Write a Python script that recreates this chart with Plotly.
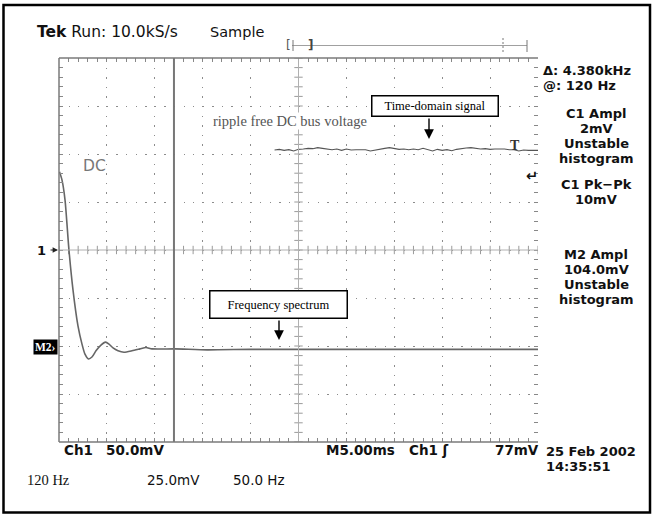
import plotly.graph_objects as go

hz_per_div = 50.0          # 50.0 Hz/div (spectrum)
ms_per_div = 5.0           # M5.00ms (time base)
cursor_hz = 120.0          # frequency cursor "@: 120 Hz"

spectrum_freq_hz = [0.5, 3.1, 6.3, 10.4, 14.6, 19.8, 24.0, 27.1, 30.8, 34.4,
                    38.6, 43.8, 48.5, 52.2, 56.4, 61.6, 67.8, 76.2, 84.5, 90.8,
                    97.1, 121.1, 154.5, 199.4, 251.6, 355.9, 500.0]
spectrum_level_div = [1.63, 1.46, 1.04, 0.0, -0.83, -1.58, -1.96, -2.17, -2.27, -2.23,
                      -2.10, -1.98, -1.92, -1.96, -2.04, -2.10, -2.13, -2.10, -2.06, -2.03,
                      -2.06, -2.06, -2.08, -2.07, -2.07, -2.07, -2.07]

time_ms = [22.5, 23.0, 23.5, 24.0, 24.5, 25.0, 25.5, 26.0, 26.5, 27.0,
           27.5, 28.0, 28.5, 29.0, 29.5, 30.0, 30.5, 31.0, 31.5, 32.0,
           32.5, 33.0, 33.5, 34.0, 34.5, 35.0, 35.5, 36.0, 36.5, 37.0,
           37.5, 38.0, 38.5, 39.0, 39.5, 40.0, 40.5, 41.0, 41.5, 42.0,
           42.5, 43.0, 43.5, 44.0, 44.5, 45.0, 45.5, 46.0, 46.5, 47.0,
           47.5, 48.0, 48.5, 49.0, 49.5, 50.0]
ripple_div = [2.083, 2.097, 2.076, 2.090, 2.063, 2.097, 2.104, 2.118, 2.111, 2.132,
              2.118, 2.104, 2.090, 2.104, 2.076, 2.104, 2.083, 2.090, 2.090, 2.090,
              2.063, 2.076, 2.104, 2.118, 2.132, 2.111, 2.097, 2.104, 2.090, 2.104,
              2.090, 2.118, 2.090, 2.063, 2.097, 2.076, 2.090, 2.069, 2.097, 2.118,
              2.125, 2.132, 2.111, 2.104, 2.111, 2.097, 2.104, 2.111, 2.104, 2.090,
              2.090, 2.063, 2.083, 2.076, 2.083, 2.076]

header_left = "<b>Tek</b> Run: 10.0kS/s"
header_mode = "Sample"
c1_lines = ["C1 Ampl", "2mV", "Unstable", "histogram"]
c1pk_lines = ["C1 Pk\u2212Pk", "10mV"]
m2_lines = ["M2 Ampl", "104.0mV", "Unstable", "histogram"]
cursor_lines = ["\u0394: 4.380kHz", "@: 120 Hz"]
bottom_scope = ["Ch1", "50.0mV", "M5.00ms", "Ch1 \u0283", "77mV"]
date_lines = ["25 Feb 2002", "14:35:51"]
bottom_spec = ["120 Hz", "25.0mV", "50.0 Hz"]

# ---------------- layout geometry ----------------
W, H = 653, 514
L, R, T, B = 59, 538, 58, 442
PW, PH = R - L, B - T


def px(x):
    return (x - L) / PW


def py(y):
    return (B - y) / PH


SANS = "DejaVu Sans"
SERIF = "Liberation Serif"

fig = go.Figure()

# centre cross-hair tick marks
minor = [i * 0.2 for i in range(51)]
minor_y = [-4 + i * 0.2 for i in range(41)]
fig.add_trace(go.Scatter(x=minor, y=[0] * len(minor), mode="markers",
                         marker=dict(symbol="line-ns", size=6, line=dict(color="#9a9a9a", width=1)),
                         hoverinfo="skip", showlegend=False))
fig.add_trace(go.Scatter(x=[5] * len(minor_y), y=minor_y, mode="markers",
                         marker=dict(symbol="line-ew", size=6, line=dict(color="#9a9a9a", width=1)),
                         hoverinfo="skip", showlegend=False))

# spectrum
fig.add_trace(go.Scatter(x=[f / hz_per_div for f in spectrum_freq_hz], y=spectrum_level_div,
                         mode="lines", line=dict(color="#666666", width=1.6, shape="spline", smoothing=0.6),
                         showlegend=False))
# time-domain
fig.add_trace(go.Scatter(x=[t / ms_per_div for t in time_ms], y=ripple_div,
                         mode="lines", line=dict(color="#555555", width=1.1),
                         showlegend=False))

shapes = []
shapes.append(dict(type="line", xref="x", yref="paper", x0=5, x1=5, y0=0, y1=1,
                   line=dict(color="#b0b0b0", width=1)))
shapes.append(dict(type="line", xref="paper", yref="y", x0=0, x1=1, y0=0, y1=0,
                   line=dict(color="#b0b0b0", width=1)))
shapes.append(dict(type="line", xref="x", yref="paper", x0=cursor_hz / hz_per_div, x1=cursor_hz / hz_per_div,
                   y0=0, y1=1, line=dict(color="#777777", width=2)))
for (x0, y0, x1, y1) in [(0, 0, 0, 1), (0, 1, 1, 1), (0, 0, 1, 0)]:
    shapes.append(dict(type="line", xref="paper", yref="paper", x0=x0, y0=y0, x1=x1, y1=y1,
                       line=dict(color="#7a7a7a", width=1.5)))
shapes.append(dict(type="line", xref="paper", yref="paper", x0=px(292), x1=px(527), y0=py(45.5), y1=py(45.5),
                   line=dict(color="#a0a0a0", width=1)))
shapes.append(dict(type="line", xref="paper", yref="paper", x0=px(293), x1=px(293), y0=py(40), y1=py(51),
                   line=dict(color="#777", width=1)))
shapes.append(dict(type="line", xref="paper", yref="paper", x0=px(503), x1=px(503), y0=py(38), y1=py(53),
                   line=dict(color="#777", width=1, dash="2px,2px")))
shapes.append(dict(type="line", xref="paper", yref="paper", x0=px(527), x1=px(527), y0=py(40), y1=py(52),
                   line=dict(color="#777", width=1)))
shapes.append(dict(type="rect", xref="paper", yref="paper", x0=px(3.5), x1=px(650), y0=py(512.5), y1=py(5),
                   line=dict(color="#000", width=2.5)))

ann = []


def txt(s, x, y, size=13, family=SANS, color="#111", xanchor="left", **kw):
    ann.append(dict(text=s, xref="paper", yref="paper", x=px(x), y=py(y), xanchor=xanchor, yanchor="middle",
                    showarrow=False, font=dict(family=family, size=size, color=color), **kw))


def bold(s):
    return "<b>" + s + "</b>"


txt(header_left, 35, 32, size=15.5)
txt(header_mode, 208, 32, size=14.5)
txt("[", 284, 45, size=12, color="#555")
txt(bold("]"), 306, 45, size=12, color="#444")

# right-hand readout panel
txt(bold(cursor_lines[0]), 541, 70, size=13)
txt(bold(cursor_lines[1]), 541, 85.2, size=13)
for s, y in zip(c1_lines, [113.5, 128.6, 143.7, 158.8]):
    txt(bold(s), 596, y, size=13, xanchor="center")
for s, y in zip(c1pk_lines, [184.6, 199.7]):
    txt(bold(s), 596, y, size=13, xanchor="center")
for s, y in zip(m2_lines, [254.5, 269.6, 284.7, 299.8]):
    txt(bold(s), 596, y, size=13, xanchor="center")
txt(bold("\u21b5"), 532, 176, size=14.5, xanchor="center")

# bottom scope readouts
for s, x in zip(bottom_scope, [62, 104, 324, 407, 493]):
    txt(bold(s), x, 450, size=13.5)
txt(bold(date_lines[0]), 544, 451.5, size=13)
txt(bold(date_lines[1]), 544, 466.6, size=13)
txt(bottom_spec[0], 25, 480, size=14.5, family=SERIF)
txt(bottom_spec[1], 145, 480, size=13.5)
txt(bottom_spec[2], 231, 480, size=13.5)

# in-graticule labels
txt("DC", 81, 166, size=15.5, color="#777")
txt("ripple free DC bus voltage", 212, 121, size=14.5, family=SERIF, color="#555", bgcolor="#fff", borderpad=0)
txt(bold("T"), 515, 145, size=14, family=SERIF, color="#333", xanchor="center")
txt(bold("1"), 48, 250, size=13, xanchor="right")
txt(bold("M2\u203a"), 58, 347, size=11.5, family=SERIF, color="#fff", xanchor="right", bgcolor="#000", borderpad=1)

txt("Time-domain signal", 435, 106, size=12.5, family=SERIF, color="#000", xanchor="center",
    bordercolor="#000", borderwidth=1.5, borderpad=0, bgcolor="#fff", width=125, height=19)
txt("Frequency spectrum", 278.5, 304.5, size=12.5, family=SERIF, color="#000", xanchor="center",
    bordercolor="#000", borderwidth=1.5, borderpad=0, bgcolor="#fff", width=136, height=26)

ann.append(dict(text="", xref="paper", yref="paper", x=px(429), y=py(139), ax=0, ay=-22, showarrow=True,
                arrowhead=2, arrowsize=1.4, arrowwidth=1.4, arrowcolor="#000", standoff=0))
ann.append(dict(text="", xref="paper", yref="paper", x=px(279), y=py(340), ax=0, ay=-21, showarrow=True,
                arrowhead=2, arrowsize=1.4, arrowwidth=1.4, arrowcolor="#000", standoff=0))
ann.append(dict(text="", xref="paper", yref="paper", x=px(58), y=py(250), ax=-9, ay=0, showarrow=True,
                arrowhead=2, arrowsize=0.9, arrowwidth=1.2, arrowcolor="#222", standoff=0))

fig.update_layout(
    width=W, height=H, autosize=False,
    margin=dict(l=L, r=W - R, t=T, b=H - B, pad=0),
    paper_bgcolor="#fff", plot_bgcolor="#fff",
    shapes=shapes, annotations=ann, showlegend=False,
    xaxis=dict(range=[0, 10], dtick=1, tick0=0, showgrid=True, gridcolor="#8c8c8c", gridwidth=1.3,
               griddash="1.3px,8.3px", zeroline=False, showline=False, showticklabels=False,
               ticks="inside", ticklen=4, tickcolor="#888", mirror="ticks", fixedrange=True,
               minor=dict(dtick=0.2, ticks="inside", ticklen=4, tickcolor="#888", showgrid=False)),
    yaxis=dict(range=[-4, 4], dtick=1, tick0=0, showgrid=True, gridcolor="#8c8c8c", gridwidth=1.3,
               griddash="1.3px,8.28px", zeroline=False, showline=False, showticklabels=False,
               ticks="inside", ticklen=4, tickcolor="#888", mirror="ticks", fixedrange=True,
               minor=dict(dtick=0.2, ticks="inside", ticklen=4, tickcolor="#888", showgrid=False)),
)

fig.write_html("out.html", config=dict(displayModeBar=False))
with open("out.html", "r", encoding="utf-8") as f:
    html = f.read()
html = html.replace("<head>", "<head><style>html,body{margin:0;padding:0;overflow:hidden}</style>", 1)
with open("out.html", "w", encoding="utf-8") as f:
    f.write(html)
